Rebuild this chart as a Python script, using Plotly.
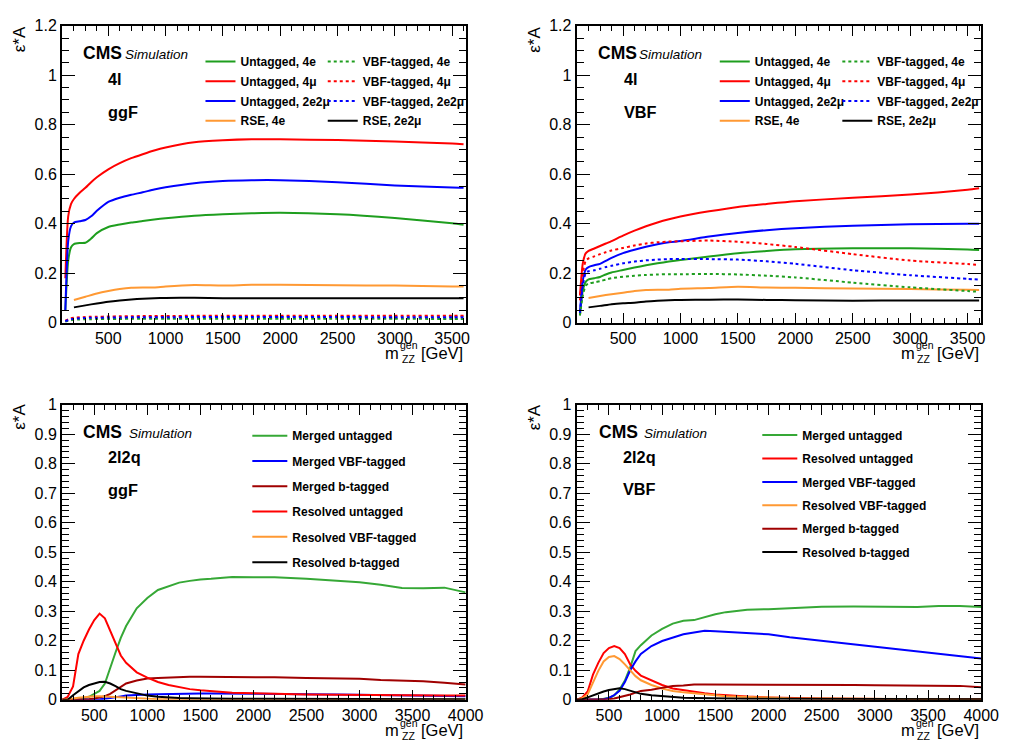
import plotly.graph_objects as go

# The page keeps the browser's 8px body margin, so the 1002x732 figure sits at (8, 8)
# and fills the 1018x748 window exactly.
W, H, OFF = 1002, 732, 8
FONT = "Liberation Sans, Arial, Helvetica, sans-serif"

# ---------------- data ----------------
mass_4l = [125, 150, 175, 200, 250, 300, 350, 400, 500, 600, 700, 800, 900, 1000,
           1250, 1500, 1750, 2000, 2500, 3000, 3500, 3600]
mass_rse = [200, 300, 400, 500, 600, 700, 800, 900, 1000, 1250, 1500, 1750, 2000,
            2500, 3000, 3500, 3600]
mass_2l2q = [200, 250, 300, 350, 400, 450, 500, 550, 600, 650, 700, 750, 800, 900, 1000,
             1100, 1200, 1300, 1400, 1500, 1600, 1800, 2000, 2200, 2500, 2800, 3000,
             3200, 3400, 3600, 3800, 4000]

# 4l, ggF production
ggf4l_untag_4e = [0.05, 0.25, 0.305, 0.318, 0.322, 0.323, 0.340, 0.362, 0.387, 0.397, 0.405,
                  0.411, 0.417, 0.422, 0.432, 0.438, 0.442, 0.444, 0.438, 0.423, 0.402, 0.396]
ggf4l_untag_4mu = [0.18, 0.43, 0.48, 0.50, 0.525, 0.545, 0.568, 0.588, 0.620, 0.645, 0.665,
                   0.681, 0.696, 0.708, 0.729, 0.737, 0.741, 0.741, 0.738, 0.732, 0.724, 0.721]
ggf4l_untag_2e2mu = [0.05, 0.33, 0.39, 0.405, 0.410, 0.415, 0.430, 0.452, 0.488, 0.505, 0.517,
                     0.527, 0.538, 0.547, 0.564, 0.573, 0.576, 0.576, 0.568, 0.555, 0.546, 0.545]
ggf4l_vbf_4e = [0.004, 0.008, 0.010, 0.012, 0.013, 0.014, 0.014, 0.015, 0.015, 0.015, 0.016,
                0.016, 0.016, 0.016, 0.016, 0.016, 0.016, 0.016, 0.016, 0.016, 0.015, 0.015]
ggf4l_vbf_4mu = [0.008, 0.014, 0.018, 0.020, 0.022, 0.023, 0.024, 0.024, 0.025, 0.026, 0.026,
                 0.027, 0.027, 0.027, 0.028, 0.028, 0.028, 0.028, 0.028, 0.028, 0.028, 0.028]
ggf4l_vbf_2e2mu = [0.006, 0.011, 0.014, 0.016, 0.018, 0.019, 0.020, 0.020, 0.021, 0.021, 0.022,
                   0.022, 0.022, 0.022, 0.023, 0.023, 0.023, 0.023, 0.023, 0.022, 0.022, 0.022]
ggf4l_rse_4e = [0.092, 0.105, 0.118, 0.128, 0.136, 0.141, 0.142, 0.142, 0.146, 0.152, 0.150,
                0.153, 0.153, 0.151, 0.150, 0.146, 0.146]
ggf4l_rse_2e2mu = [0.062, 0.070, 0.078, 0.085, 0.090, 0.094, 0.097, 0.099, 0.100, 0.101, 0.099,
                   0.099, 0.099, 0.099, 0.099, 0.099, 0.099]

# 4l, VBF production
vbf4l_untag_4e = [0.03, 0.13, 0.165, 0.175, 0.180, 0.185, 0.195, 0.203, 0.213, 0.223, 0.232,
                  0.240, 0.247, 0.253, 0.268, 0.281, 0.290, 0.297, 0.301, 0.301, 0.296, 0.294]
vbf4l_untag_4mu = [0.11, 0.24, 0.28, 0.29, 0.30, 0.31, 0.32, 0.33, 0.352, 0.372, 0.390,
                   0.405, 0.418, 0.429, 0.450, 0.468, 0.480, 0.491, 0.505, 0.518, 0.537, 0.543]
vbf4l_untag_2e2mu = [0.04, 0.17, 0.215, 0.225, 0.232, 0.238, 0.250, 0.262, 0.281, 0.295, 0.307,
                     0.317, 0.325, 0.330, 0.348, 0.363, 0.374, 0.382, 0.392, 0.398, 0.400, 0.400]
vbf4l_vbf_4e = [0.03, 0.11, 0.15, 0.158, 0.163, 0.168, 0.174, 0.180, 0.186, 0.190, 0.193,
                0.195, 0.196, 0.196, 0.197, 0.195, 0.190, 0.183, 0.162, 0.143, 0.128, 0.125]
vbf4l_vbf_4mu = [0.09, 0.20, 0.25, 0.26, 0.268, 0.277, 0.285, 0.292, 0.302, 0.312, 0.320,
                 0.325, 0.328, 0.329, 0.332, 0.327, 0.318, 0.306, 0.277, 0.251, 0.237, 0.233]
vbf4l_vbf_2e2mu = [0.04, 0.15, 0.20, 0.208, 0.212, 0.218, 0.225, 0.230, 0.240, 0.247, 0.252,
                   0.255, 0.257, 0.257, 0.257, 0.255, 0.248, 0.238, 0.212, 0.192, 0.177, 0.174]
vbf4l_rse_4e = [0.100, 0.108, 0.115, 0.121, 0.128, 0.132, 0.133, 0.133, 0.137, 0.140, 0.145,
                0.142, 0.141, 0.138, 0.136, 0.133, 0.132]
vbf4l_rse_2e2mu = [0.062, 0.068, 0.075, 0.079, 0.081, 0.086, 0.089, 0.091, 0.092, 0.093, 0.094,
                   0.092, 0.091, 0.089, 0.090, 0.090, 0.090]

# 2l2q, ggF production
ggf2l_merged_untag = [0, 0, 0, 0.002, 0.005, 0.010, 0.020, 0.030, 0.055, 0.110, 0.160, 0.210,
                      0.250, 0.310, 0.345, 0.372, 0.385, 0.397, 0.403, 0.408, 0.410, 0.416,
                      0.415, 0.415, 0.410, 0.403, 0.398, 0.390, 0.379, 0.378, 0.380, 0.364]
ggf2l_merged_vbf = [0, 0, 0, 0, 0, 0, 0.001, 0.002, 0.003, 0.005, 0.008, 0.011, 0.014, 0.017,
                    0.018, 0.019, 0.020, 0.021, 0.021, 0.021, 0.021, 0.021, 0.020, 0.020, 0.019,
                    0.018, 0.017, 0.016, 0.015, 0.014, 0.013, 0.012]
ggf2l_merged_b = [0, 0, 0, 0, 0.001, 0.002, 0.004, 0.007, 0.012, 0.020, 0.032, 0.045, 0.055,
                  0.065, 0.072, 0.074, 0.076, 0.077, 0.078, 0.078, 0.078, 0.077, 0.077, 0.076,
                  0.074, 0.072, 0.071, 0.067, 0.065, 0.063, 0.058, 0.052]
ggf2l_resolved_untag = [0, 0.010, 0.045, 0.155, 0.200, 0.238, 0.270, 0.292, 0.276, 0.235, 0.190,
                        0.150, 0.125, 0.093, 0.075, 0.060, 0.050, 0.042, 0.036, 0.032, 0.029,
                        0.024, 0.022, 0.020, 0.018, 0.017, 0.016, 0.016, 0.015, 0.015, 0.014, 0.014]
ggf2l_resolved_vbf = [0, 0.001, 0.004, 0.007, 0.009, 0.011, 0.012, 0.012, 0.011, 0.010, 0.008,
                      0.007, 0.006, 0.004, 0.003, 0.002, 0.002, 0.002, 0.001, 0.001, 0.001,
                      0.001, 0.001, 0.001, 0.001, 0.001, 0.001, 0.001, 0.001, 0.001, 0.001, 0.001]
ggf2l_resolved_b = [0, 0, 0.015, 0.030, 0.042, 0.050, 0.056, 0.060, 0.061, 0.055, 0.046, 0.036,
                    0.030, 0.022, 0.014, 0.010, 0.007, 0.006, 0.005, 0.004, 0.004, 0.003, 0.003,
                    0.003, 0.003, 0.002, 0.002, 0.002, 0.002, 0.002, 0.002, 0.002]

# 2l2q, VBF production
vbf2l_merged_untag = [0, 0, 0, 0, 0.001, 0.003, 0.006, 0.015, 0.035, 0.065, 0.110, 0.165, 0.185,
                      0.218, 0.240, 0.258, 0.268, 0.270, 0.280, 0.290, 0.297, 0.305, 0.307,
                      0.310, 0.315, 0.316, 0.316, 0.316, 0.314, 0.318, 0.318, 0.314]
vbf2l_resolved_untag = [0, 0.008, 0.028, 0.085, 0.125, 0.158, 0.175, 0.182, 0.175, 0.155, 0.120,
                        0.098, 0.082, 0.065, 0.050, 0.038, 0.032, 0.027, 0.022, 0.018, 0.015,
                        0.011, 0.008, 0.006, 0.004, 0.003, 0.002, 0.002, 0.002, 0.002, 0.002, 0.002]
vbf2l_merged_vbf = [0, 0, 0, 0, 0, 0.002, 0.006, 0.016, 0.030, 0.060, 0.100, 0.130, 0.155, 0.182,
                    0.199, 0.210, 0.222, 0.228, 0.234, 0.232, 0.230, 0.226, 0.222, 0.212, 0.200,
                    0.190, 0.182, 0.174, 0.165, 0.156, 0.148, 0.140]
vbf2l_resolved_vbf = [0, 0.005, 0.018, 0.060, 0.098, 0.130, 0.145, 0.148, 0.138, 0.120, 0.098,
                      0.080, 0.066, 0.050, 0.038, 0.030, 0.025, 0.021, 0.017, 0.015, 0.012, 0.009,
                      0.007, 0.005, 0.004, 0.003, 0.002, 0.002, 0.001, 0.001, 0.001, 0.001]
vbf2l_merged_b = [0, 0, 0, 0, 0, 0.001, 0.002, 0.004, 0.008, 0.012, 0.018, 0.024, 0.030, 0.034,
                  0.040, 0.047, 0.048, 0.052, 0.052, 0.052, 0.052, 0.052, 0.052, 0.052, 0.052,
                  0.050, 0.049, 0.048, 0.047, 0.047, 0.047, 0.042]
vbf2l_resolved_b = [0, 0.002, 0.008, 0.015, 0.022, 0.028, 0.033, 0.037, 0.039, 0.036, 0.030,
                    0.025, 0.020, 0.015, 0.012, 0.009, 0.007, 0.006, 0.005, 0.004, 0.004, 0.003,
                    0.003, 0.003, 0.002, 0.002, 0.002, 0.002, 0.002, 0.002, 0.002, 0.002]

GREEN = "#1e9e1e"
GREEN2 = "#36a836"
RED = "#ff0000"
BLUE = "#0000ff"
ORANGE = "#ff9933"
DARKRED = "#a00000"
BLACK = "#000000"

# panel frames in page pixels: (left, right, top, bottom)
PANELS = {
    "1": (63, 474, 18, 322),
    "2": (587, 999, 18, 322),
    "3": (63, 474, 406, 708),
    "4": (587, 999, 406, 708),
}


def px(x):
    return (x - OFF) / W


def py(y):
    return 1 - (y - OFF) / H


fig = go.Figure()


def add(xs, ys, name, color, panel, legend, group, dash="solid", shape="spline"):
    fig.add_trace(go.Scatter(
        x=xs, y=ys, name="<b>%s</b>" % name, mode="lines",
        line=dict(color=color, width=2, dash=dash, shape=shape,
                  smoothing=0.6 if shape == "spline" else None),
        xaxis="x" if panel == "1" else "x" + panel,
        yaxis="y" if panel == "1" else "y" + panel,
        legend=legend, legendgroup=group, hoverinfo="skip",
    ))


DOT = "3px,3px"
# top-left: ggF 4l
add(mass_4l, ggf4l_untag_4e, "Untagged, 4e", GREEN, "1", "legend", "t1")
add(mass_4l, ggf4l_untag_4mu, "Untagged, 4μ", RED, "1", "legend", "t2")
add(mass_4l, ggf4l_untag_2e2mu, "Untagged, 2e2μ", BLUE, "1", "legend", "t3")
add(mass_rse, ggf4l_rse_4e, "RSE, 4e", ORANGE, "1", "legend", "t4")
add(mass_4l, ggf4l_vbf_4e, "VBF-tagged, 4e", GREEN, "1", "legend2", "t5", DOT)
add(mass_4l, ggf4l_vbf_4mu, "VBF-tagged, 4μ", RED, "1", "legend2", "t6", DOT)
add(mass_4l, ggf4l_vbf_2e2mu, "VBF-tagged, 2e2μ", BLUE, "1", "legend2", "t7", DOT)
add(mass_rse, ggf4l_rse_2e2mu, "RSE, 2e2μ", BLACK, "1", "legend2", "t8")
# top-right: VBF 4l
add(mass_4l, vbf4l_untag_4e, "Untagged, 4e", GREEN, "2", "legend3", "u1")
add(mass_4l, vbf4l_untag_4mu, "Untagged, 4μ", RED, "2", "legend3", "u2")
add(mass_4l, vbf4l_untag_2e2mu, "Untagged, 2e2μ", BLUE, "2", "legend3", "u3")
add(mass_rse, vbf4l_rse_4e, "RSE, 4e", ORANGE, "2", "legend3", "u4")
add(mass_4l, vbf4l_vbf_4e, "VBF-tagged, 4e", GREEN, "2", "legend4", "u5", DOT)
add(mass_4l, vbf4l_vbf_4mu, "VBF-tagged, 4μ", RED, "2", "legend4", "u6", DOT)
add(mass_4l, vbf4l_vbf_2e2mu, "VBF-tagged, 2e2μ", BLUE, "2", "legend4", "u7", DOT)
add(mass_rse, vbf4l_rse_2e2mu, "RSE, 2e2μ", BLACK, "2", "legend4", "u8")
# bottom-left: ggF 2l2q
add(mass_2l2q, ggf2l_merged_untag, "Merged untagged", GREEN2, "3", "legend5", "a1", shape="linear")
add(mass_2l2q, ggf2l_merged_vbf, "Merged VBF-tagged", BLUE, "3", "legend5", "a2", shape="linear")
add(mass_2l2q, ggf2l_merged_b, "Merged b-tagged", DARKRED, "3", "legend5", "a3", shape="linear")
add(mass_2l2q, ggf2l_resolved_untag, "Resolved untagged", RED, "3", "legend5", "a4", shape="linear")
add(mass_2l2q, ggf2l_resolved_vbf, "Resolved VBF-tagged", ORANGE, "3", "legend5", "a5", shape="linear")
add(mass_2l2q, ggf2l_resolved_b, "Resolved b-tagged", BLACK, "3", "legend5", "a6", shape="linear")
# bottom-right: VBF 2l2q
add(mass_2l2q, vbf2l_merged_untag, "Merged untagged", GREEN2, "4", "legend6", "b1", shape="linear")
add(mass_2l2q, vbf2l_resolved_untag, "Resolved untagged", RED, "4", "legend6", "b2", shape="linear")
add(mass_2l2q, vbf2l_merged_vbf, "Merged VBF-tagged", BLUE, "4", "legend6", "b3", shape="linear")
add(mass_2l2q, vbf2l_resolved_vbf, "Resolved VBF-tagged", ORANGE, "4", "legend6", "b4", shape="linear")
add(mass_2l2q, vbf2l_merged_b, "Merged b-tagged", DARKRED, "4", "legend6", "b5", shape="linear")
add(mass_2l2q, vbf2l_resolved_b, "Resolved b-tagged", BLACK, "4", "legend6", "b6", shape="linear")


def axis_common():
    return dict(showline=True, linewidth=2, linecolor="black", mirror="allticks",
                ticks="inside", tickcolor="black", tickwidth=1, showgrid=False,
                zeroline=False, fixedrange=True,
                tickfont=dict(family=FONT, size=16, color="black"))


layout_axes = {}
for key, (l, r, t, b) in PANELS.items():
    xname = "xaxis" if key == "1" else "xaxis" + key
    yname = "yaxis" if key == "1" else "yaxis" + key
    anchor_x = "y" if key == "1" else "y" + key
    anchor_y = "x" if key == "1" else "x" + key
    top = key in ("1", "2")
    xa = axis_common()
    xa.update(domain=[px(l), px(r)], anchor=anchor_x,
              range=[96, 3618] if top else [196, 4000],
              tick0=0, dtick=500, ticklen=10,
              minor=dict(ticks="inside", ticklen=5, tick0=0, dtick=100,
                         tickcolor="black", tickwidth=1, showgrid=False))
    ya = axis_common()
    ya.update(domain=[py(b), py(t)], anchor=anchor_y,
              range=[0, 1.2] if top else [0, 1.0],
              tick0=0, dtick=0.2 if top else 0.1, ticklen=13,
              minor=dict(ticks="inside", ticklen=7, tick0=0,
                         dtick=0.05 if top else 0.02,
                         tickcolor="black", tickwidth=1, showgrid=False))
    layout_axes[xname] = xa
    layout_axes[yname] = ya

legend_font = dict(family=FONT, size=12, color="black")


def legend_box(x, y, gap, itemwidth=30):
    return dict(x=px(x), y=py(y), xanchor="left", yanchor="top",
                bgcolor="rgba(0,0,0,0)", borderwidth=0, font=legend_font,
                itemwidth=itemwidth, traceorder="grouped", tracegroupgap=gap,
                orientation="v", itemclick=False, itemdoubleclick=False)


fig.update_layout(
    width=W, height=H, margin=dict(l=0, r=0, t=0, b=0),
    paper_bgcolor="white", plot_bgcolor="white",
    showlegend=True,
    legend=legend_box(204, 39.8, 0.7),
    legend2=legend_box(328.5, 39.8, 0.7),
    legend3=legend_box(727.7, 39.8, 0.7),
    legend4=legend_box(852.5, 39.8, 0.7),
    legend5=legend_box(251.7, 422.8, 6.3, 35),
    legend6=legend_box(771, 422.2, 4.4, 35),
    **layout_axes,
)

annotations = []


def text(x, y, s, size, anchor="left", angle=0):
    annotations.append(dict(x=px(x), y=py(y), xref="paper", yref="paper", text=s,
                            showarrow=False, xanchor=anchor, yanchor="middle",
                            textangle=angle, borderpad=0,
                            font=dict(family=FONT, size=size, color="black")))


# panel labels: (y-title x, y-title y, CMS x, CMS y, Simulation x, label x, label1 y, label2 y, label1, label2)
panel_text = {
    "1": (20, 32, 83.3, 46.2, 125, 109.3, 72.7, 106.0, "4l", "ggF"),
    "2": (544, 32, 607.7, 46.2, 649.3, 634.0, 72.7, 105.8, "4l", "VBF"),
    "3": (20, 418.5, 83.3, 434.0, 130, 109.3, 459.0, 492.8, "2l2q", "ggF"),
    "4": (545, 418.5, 608.3, 434.0, 654, 633.3, 459.0, 492.6, "2l2q", "VBF"),
}
for key, (l, r, t, b) in PANELS.items():
    yt_x, yt_y, cms_x, cms_y, sim_x, lab_x, l1_y, l2_y, lab1, lab2 = panel_text[key]
    # y-axis title
    text(yt_x, yt_y, "ε*A", 17, anchor="center", angle=-90)
    # x-axis title  m_ZZ^gen [GeV]
    text(r - 1.5, b + 30.8, "[GeV]", 16.5, anchor="right")
    text(r - 75, b + 30.8, "m", 16.5, anchor="center")
    text(r - 57.5, b + 23.3, "gen", 10.5, anchor="center")
    text(r - 58.5, b + 37, "ZZ", 10.5, anchor="center")
    # CMS Simulation
    text(cms_x, cms_y, "<b>CMS</b>", 17.5)
    text(sim_x + 0.7, cms_y + 1.4, "<i>Simulation</i>", 13.5)
    # channel / production labels
    text(lab_x, l1_y, "<b>%s</b>" % lab1, 16.3)
    text(lab_x, l2_y, "<b>%s</b>" % lab2, 16.3)

fig.update_layout(annotations=annotations)

fig.write_html("out.html", config={"displayModeBar": False})
